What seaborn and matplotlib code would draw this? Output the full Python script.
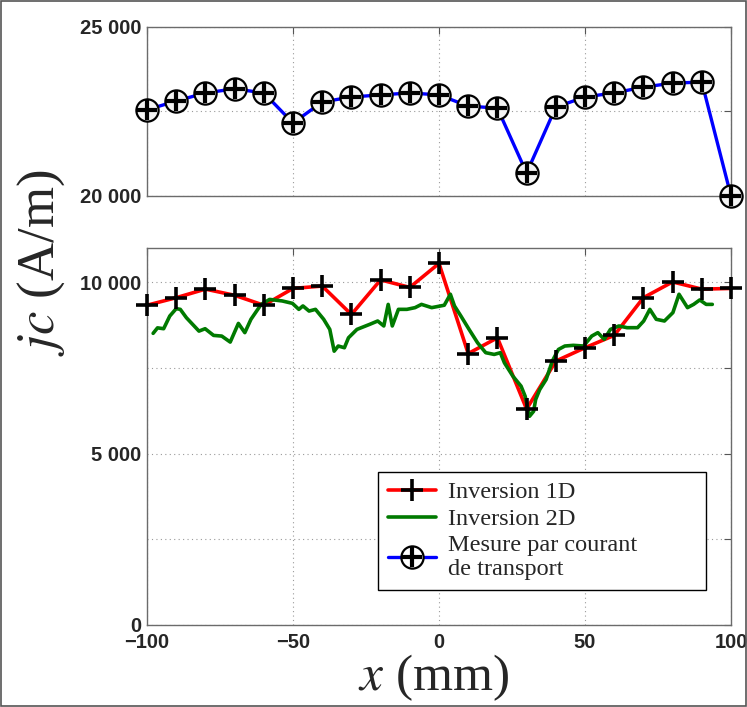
import numpy as np
import pandas as pd
import matplotlib
matplotlib.use("Agg")
import matplotlib.pyplot as plt
import seaborn as sns
from matplotlib.patches import Rectangle

# ---------------- data ----------------
x_pos = [-100, -90, -80, -70, -60, -50, -40, -30, -20, -10, 0,
         10, 20, 30, 40, 50, 60, 70, 80, 90, 100]
transport = [22550, 22810, 23050, 23170, 23050, 22160, 22780, 22930, 22990, 23050, 22990,
             22660, 22600, 20680, 22630, 22930, 23050, 23220, 23340, 23370, 20000]
inv1d = [9330, 9550, 9800, 9620, 9330, 9820, 9890, 9060, 10070, 9850, 10550,
         7920, 8380, 6300, 7700, 8090, 8450, 9550, 10010, 9800, 9820]
x2d = [-97.9, -96.4, -94.3, -92.2, -90.0, -88.6, -86.5, -82.2, -80.1, -77.2, -74.4, -71.5,
       -68.7, -66.5, -64.4, -60.9, -58.0, -53.7, -50.2, -48.0, -46.6, -44.5, -42.3, -39.5,
       -37.4, -35.9, -34.5, -32.4, -31.0, -28.1, -23.8, -21.0, -18.9, -17.4, -16.0, -13.9,
       -11.0, -8.2, -6.0, -2.5, 1.8, 3.9, 5.3, 7.5, 10.3, 13.2, 16.0, 18.9, 21.0, 22.4,
       25.3, 28.1, 29.5, 31.0, 32.4, 33.1, 34.5, 36.7, 38.8, 40.9, 43.1, 46.0, 49.5, 52.3,
       54.4, 56.6, 58.7, 61.6, 64.4, 68.0, 70.1, 72.2, 74.4, 77.2, 80.1, 82.2, 85.1, 87.2,
       89.3, 91.5, 93.6]
inv2d = [8510, 8670, 8645, 9015, 9230, 9210, 8965, 8575, 8645, 8450, 8430, 8255,
         8800, 8530, 8920, 9355, 9500, 9455, 9385, 9210, 9310, 9160, 9210, 8920,
         8625, 7990, 8140, 8090, 8380, 8625, 8770, 8870, 8725, 9355, 8725, 9210,
         9210, 9260, 9355, 9260, 9330, 9650, 9310, 9015, 8625, 8235, 7945, 7895, 7945, 7650,
         7260, 6970, 6675, 6090, 6235, 6580, 6870, 7165, 7700, 8040, 8140, 8160, 8140, 8430,
         8530, 8335, 8625, 8725, 8675, 8675, 8870, 9210, 8920, 8870, 9115, 9650, 9260, 9355,
         9485, 9355, 9355]

top_yticks = [20000, 22500, 25000]
top_yticklabels = ["20 000", "", "25 000"]
bot_yticks = [0, 2500, 5000, 7500, 10000]
bot_yticklabels = ["0", "", "5 000", "", "10 000"]
xticks = [-100, -50, 0, 50, 100]
xticklabels = ["\u2212100", "\u221250", "0", "50", "100"]
labels = ["Inversion 1D", "Inversion 2D", "Mesure par courant\nde transport"]

df_top = pd.DataFrame({"x": x_pos, "y": transport})
df_1d = pd.DataFrame({"x": x_pos, "y": inv1d})
df_2d = pd.DataFrame({"x": x2d, "y": inv2d})

# ---------------- style ----------------
sns.set_style("white")
plt.rcParams["mathtext.fontset"] = "stix"
plt.rcParams["font.family"] = ["Liberation Sans", "DejaVu Sans"]

W, H = 747, 707
fig = plt.figure(figsize=(W / 100, H / 100), dpi=100)
fig.patch.set_facecolor("white")

L = 147 / W
AW = 584 / W
ax_top = fig.add_axes([L, 1 - 196 / H, AW, 169 / H])
ax_bot = fig.add_axes([L, 1 - 625 / H, AW, 377 / H])

BLUE = "#0000ff"
RED = "#ff0000"
GREEN = "#007a00"

# top panel
sns.lineplot(data=df_top, x="x", y="y", ax=ax_top, color=BLUE, lw=2.4,
             sort=False, zorder=2)
ax_top.plot(df_top["x"], df_top["y"], ls="none", marker="o", ms=16,
            mfc="#f4f4f4", mec="black", mew=1.6, clip_on=False, zorder=3)
ax_top.plot(df_top["x"], df_top["y"], ls="none", marker="+", ms=15,
            mec="black", mew=3.0, clip_on=False, zorder=4)

# bottom panel
sns.lineplot(data=df_2d, x="x", y="y", ax=ax_bot, color=GREEN, lw=2.6,
             sort=False, zorder=3)
sns.lineplot(data=df_1d, x="x", y="y", ax=ax_bot, color=RED, lw=2.6,
             sort=False, zorder=2)
ax_bot.plot(df_1d["x"], df_1d["y"], ls="none", marker="+", ms=16, mec="black",
            mew=2.6, clip_on=False, zorder=4)

tick_font = dict(family="Liberation Sans", weight="bold", size=14.5)
for ax in (ax_top, ax_bot):
    ax.set_xlim(-100, 100)
    ax.set_xticks(xticks)
    ax.set_xlabel("")
    ax.set_ylabel("")
    ax.grid(True, ls=(0, (1, 3)), color="#9a9a9a", lw=0.8)
    ax.tick_params(direction="in", length=5, width=0.8, color="#555555",
                   top=True, right=True, pad=4)
    ax.tick_params(axis="x", pad=6)
    for s in ax.spines.values():
        s.set_color("#6b6b6b")
        s.set_linewidth(1.0)
    ax.set_axisbelow(True)

ax_top.set_ylim(20000, 25000)
ax_top.set_yticks(top_yticks)
ax_top.set_yticklabels(top_yticklabels, fontdict=tick_font)
ax_top.set_xticklabels([])

ax_bot.set_ylim(0, 11000)
ax_bot.set_yticks(bot_yticks)
ax_bot.set_yticklabels(bot_yticklabels, fontdict=tick_font)
ax_bot.set_xticklabels(xticklabels, fontdict=tick_font)

# legend
h1 = (plt.Line2D([], [], color=RED, lw=2.6),
      plt.Line2D([], [], ls="none", marker="+", ms=16, mec="black", mew=2.6))
h2 = plt.Line2D([], [], color=GREEN, lw=2.6)
h3 = (plt.Line2D([], [], color=BLUE, lw=2.4),
      plt.Line2D([], [], ls="none", marker="o", ms=16, mfc="white", mec="black", mew=1.6),
      plt.Line2D([], [], ls="none", marker="+", ms=15, mec="black", mew=3.0))
lx0 = (378 - 147) / 584
ly0 = (625 - 590) / 377
lw_ = (706 - 378) / 584
lh_ = (590 - 473) / 377
leg = ax_bot.legend([h1, h2, h3], labels, loc="lower left", mode="expand",
                    bbox_to_anchor=(lx0, ly0, lw_, lh_),
                    prop=dict(family="Liberation Serif", size=17.5),
                    frameon=True, fancybox=False, edgecolor="black",
                    framealpha=1, handlelength=2.0, handletextpad=0.5,
                    labelspacing=0.2, borderpad=0.4, borderaxespad=0)
leg.get_frame().set_linewidth(1.0)

# axis labels
fig.text(433 / W, 1 - 678 / H, r"$x$ (mm)", ha="center", va="center",
         family="Liberation Serif", size=37)
fig.text(41 / W, 1 - 263 / H, r"$jc$ (A/m)", ha="center", va="center",
         rotation=90, family="Liberation Serif", size=38)

# figure frame
fig.add_artist(Rectangle((0.001, 0.001), 0.997, 0.997, transform=fig.transFigure,
                         fill=False, edgecolor="#555555", lw=1.2))

fig.savefig("out.png", dpi=100, facecolor="white")
